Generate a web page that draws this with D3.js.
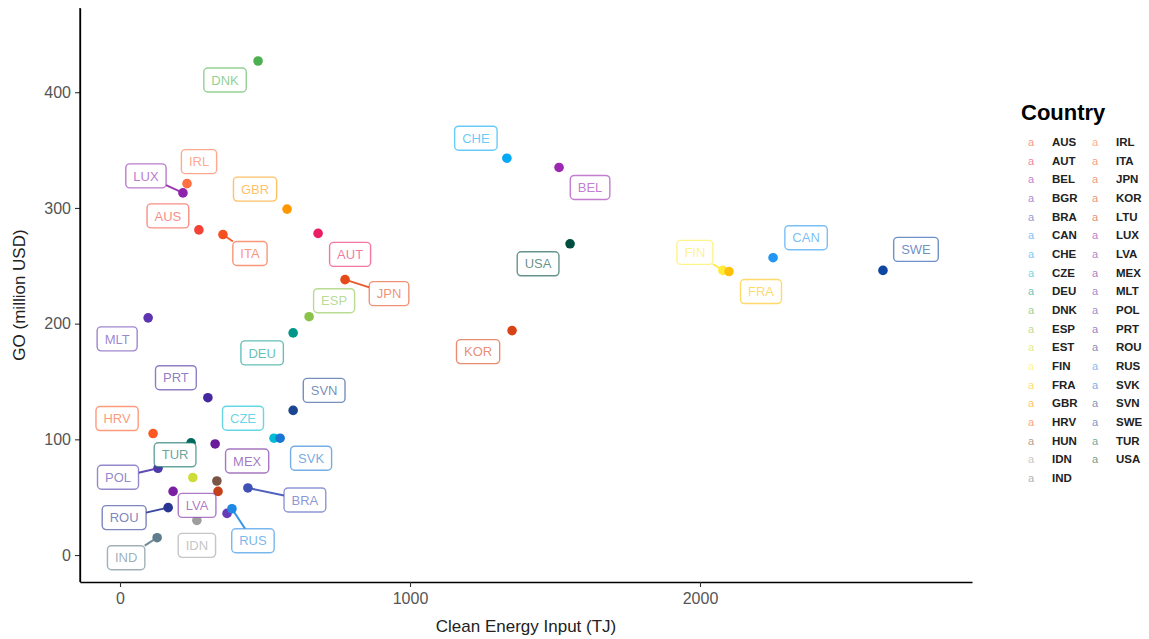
<!DOCTYPE html>
<html>
<head>
<meta charset="utf-8">
<script src="https://cdn.jsdelivr.net/npm/d3@7"></script>
<style>
  body { margin: 0; background: #fff; }
  svg { font-family: "Liberation Sans", Arial, sans-serif; }
</style>
</head>
<body>
<div id="chart"></div>
<script>
var w = 1149;
var h = 639;

// Data
var countries = ["AUS","AUT","BEL","BGR","BRA","CAN","CHE","CZE","DEU","DNK","ESP","EST","FIN","FRA","GBR","HRV","HUN","IDN","IND",
                 "IRL","ITA","JPN","KOR","LTU","LUX","LVA","MEX","MLT","POL","PRT","ROU","RUS","SVK","SVN","SWE","TUR","USA"];
// Clean energy input (TJ)
var energy = [272,683,1514,369,441,2252,1334,531,597,476,652,251,2079,2100,576,114,334,265,128,
              231,355,776,1352,338,217,183,328,97,131,303,166,386,552,597,2631,245,1552];
// GO (million USD)
var goValues = [281,278,335,36,58,257,343,101,192,427,206,67,246,245,299,105,64,30,15,
                321,277,238,194,55,313,55,96,205,75,136,41,40,101,125,246,97,269];
var xTicks = [0, 1000, 2000];
var yTicks = [0, 100, 200, 300, 400];

// colours per country (same order as countries)
var palette = ["#F44336","#E91E63","#9C27B0","#673AB7","#3F51B5","#2196F3","#03A9F4","#00BCD4","#009688","#4CAF50",
               "#8BC34A","#CDDC39","#FFEB3B","#FFC107","#FF9800","#FF5722","#795548","#9E9E9E","#607D8B",
               "#FF7043","#F4511E","#E64A19","#D84315","#C3401A","#8E24AA","#7B1FA2","#6A1B9A","#5E35B1","#4E3AA8",
               "#4527A0","#283593","#1E88E5","#1976D2","#1A4590","#0D47A1","#00695C","#004D40"];

// label placement (pixel offsets from the point, like ggrepel put them)
var labelOffset = {
  DNK:[-33,19], CHE:[-31,-20], LUX:[-37,-17], IRL:[12,-22], BEL:[31,20], GBR:[-32,-20], AUS:[-31,-14],
  ITA:[27,19], AUT:[32,21], CAN:[33,-20], SWE:[33,-21], FIN:[-28,-18], USA:[-32,20], FRA:[32,20],
  ESP:[25,-16], JPN:[44,14], MLT:[-31,21], DEU:[-31,20], KOR:[-34,21], PRT:[-32,-20], SVN:[31,-20],
  HRV:[-36,-15], CZE:[-31,-20], TUR:[-16,12], MEX:[32,17], SVK:[31,20], POL:[-40,9], BRA:[57,12],
  LVA:[24,14], ROU:[-44,10], RUS:[21,32], IDN:[0,25], IND:[-31,20]
};
var withSegment = ["LUX","ITA","JPN","FIN","POL","ROU","IND","BRA","RUS"];

var color = d3.scaleOrdinal().domain(countries).range(palette);

var x = d3.scaleLinear().domain([-138, 2938]).range([80, 972]);
var y = d3.scaleLinear().domain([-23.3, 472.8]).range([582, 8]);

var svg = d3.select("#chart").append("svg")
  .attr("width", w)
  .attr("height", h);

var points = countries.map(function (c, i) {
  return { name: c, x: energy[i], y: goValues[i] };
});

// axes
var xAxis = svg.append("g")
  .attr("transform", "translate(0,582)")
  .call(d3.axisBottom(x).tickValues(xTicks).tickFormat(d3.format("d")).tickSize(5).tickSizeOuter(0));
var yAxis = svg.append("g")
  .attr("transform", "translate(80,0)")
  .call(d3.axisLeft(y).tickValues(yTicks).tickSize(5).tickSizeOuter(0));

[xAxis, yAxis].forEach(function (a) {
  a.select(".domain").attr("stroke", "#000").attr("stroke-width", 1.3);
  a.selectAll(".tick line").attr("stroke", "#333").attr("stroke-width", 1.1);
  a.selectAll(".tick text").attr("fill", "#555").style("font-size", "16px")
    .style("font-family", "'Liberation Sans', Arial, sans-serif");
});
xAxis.selectAll(".tick text").attr("dy", "0.85em");
yAxis.selectAll(".tick text").attr("x", -9);
svg.append("line").attr("x1", 80).attr("x2", 80).attr("y1", 8).attr("y2", 582)
  .attr("stroke", "#000").attr("stroke-width", 1.3);

svg.append("text")
  .attr("x", 526).attr("y", 632)
  .attr("text-anchor", "middle")
  .attr("fill", "#222")
  .style("font-size", "17px")
  .text("Clean Energy Input (TJ)");

svg.append("text")
  .attr("transform", "translate(25,295) rotate(-90)")
  .attr("text-anchor", "middle")
  .attr("fill", "#222")
  .style("font-size", "17px")
  .text("GO (million USD)");

// points
svg.append("g").selectAll("circle")
  .data(points)
  .enter()
  .append("circle")
  .attr("cx", d => x(d.x))
  .attr("cy", d => y(d.y))
  .attr("r", 4.8)
  .attr("fill", d => color(d.name));

// labels
var labelled = points.filter(d => labelOffset[d.name]);
var segLayer = svg.append("g");
var labLayer = svg.append("g");

labelled.forEach(function (d) {
  var px = x(d.x), py = y(d.y);
  var cx = px + labelOffset[d.name][0];
  var cy = py + labelOffset[d.name][1];
  var g = labLayer.append("g").attr("transform", "translate(" + cx + "," + cy + ")");
  var rect = g.append("rect");
  var t = g.append("text")
    .attr("text-anchor", "middle")
    .attr("dy", "0.36em")
    .attr("fill", color(d.name))
    .attr("fill-opacity", 0.62)
    .style("font-size", "13px")
    .text(d.name);
  var tw = t.node().getComputedTextLength();
  var bw = tw + 15, bh = 24;
  rect.attr("x", -bw / 2).attr("y", -bh / 2)
    .attr("width", bw).attr("height", bh)
    .attr("rx", 4).attr("ry", 4)
    .attr("fill", "#fff")
    .attr("stroke", color(d.name))
    .attr("stroke-opacity", 0.6)
    .attr("stroke-width", 1.4);

  if (withSegment.indexOf(d.name) !== -1) {
    // segment from the point to the edge of the box
    var vx = px - cx, vy = py - cy;
    var tx = vx !== 0 ? (bw / 2) / Math.abs(vx) : Infinity;
    var ty = vy !== 0 ? (bh / 2) / Math.abs(vy) : Infinity;
    var tt = Math.min(tx, ty);
    segLayer.append("line")
      .attr("x1", px).attr("y1", py)
      .attr("x2", cx + vx * tt).attr("y2", cy + vy * tt)
      .attr("stroke", color(d.name))
      .attr("stroke-opacity", 0.9)
      .attr("stroke-width", 2);
  }
});

// legend
var legend = svg.append("g").attr("transform", "translate(1021,0)");
legend.append("text")
  .attr("x", 0).attr("y", 120)
  .attr("font-weight", "bold")
  .attr("fill", "#000")
  .style("font-size", "22px")
  .text("Country");

var legendItems = legend.selectAll(".legend-item")
  .data(countries)
  .enter()
  .append("g")
  .attr("class", "legend-item")
  .attr("transform", function (d, i) {
    var col = i < 19 ? 0 : 1;
    var row = i < 19 ? i : i - 19;
    return "translate(" + (col * 64) + "," + (142 + row * 18.67) + ")";
  });

legendItems.append("text")
  .attr("x", 10).attr("dy", "0.35em")
  .attr("text-anchor", "middle")
  .attr("fill", d => color(d))
  .attr("fill-opacity", 0.6)
  .style("font-size", "11px")
  .text("a");

legendItems.append("text")
  .attr("x", 31).attr("dy", "0.35em")
  .attr("font-weight", "bold")
  .attr("fill", "#222")
  .style("font-size", "11.5px")
  .text(d => d);
</script>
</body>
</html>
